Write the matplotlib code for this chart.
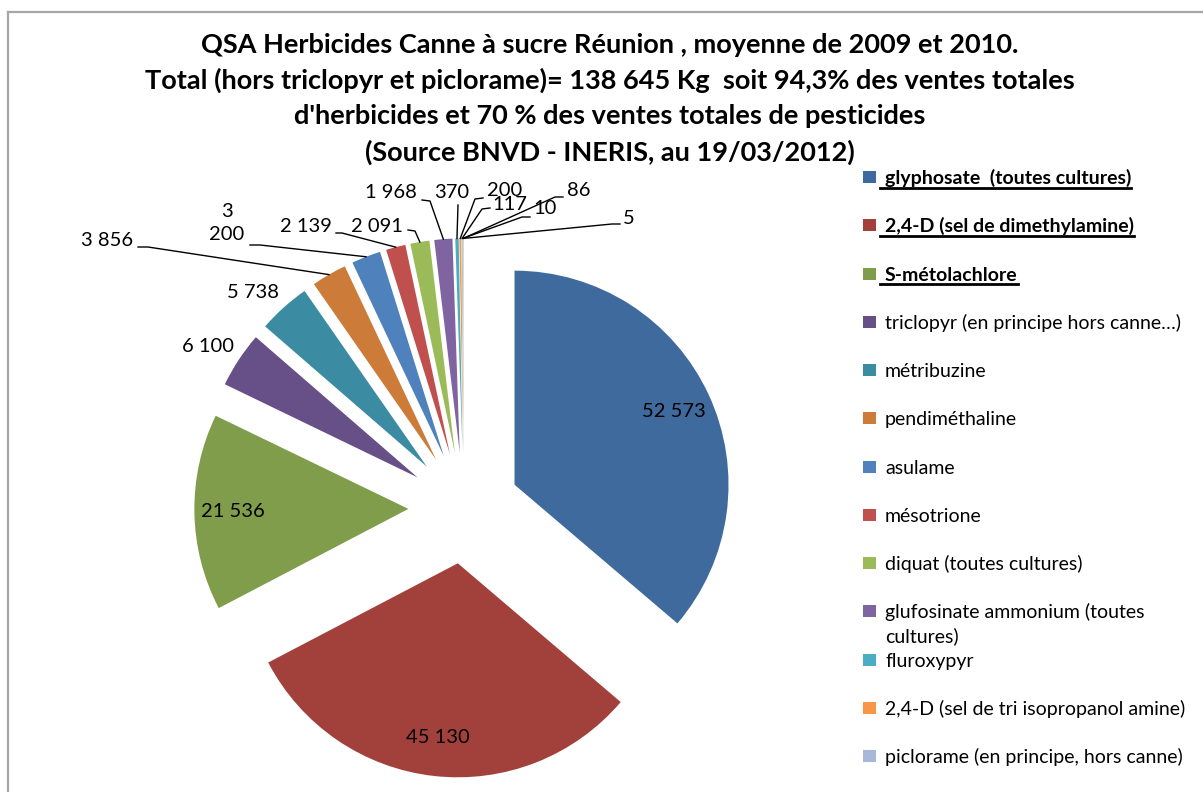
import matplotlib
matplotlib.use("Agg")
import matplotlib.pyplot as plt
from matplotlib.lines import Line2D
from matplotlib.patches import Rectangle
import numpy as np

# ---------------- data ----------------
categories = [
    "glyphosate  (toutes cultures)",
    "2,4-D (sel de dimethylamine)",
    "S-métolachlore",
    "triclopyr (en principe hors canne…)",
    "métribuzine",
    "pendiméthaline",
    "asulame",
    "mésotrione",
    "diquat (toutes cultures)",
    "glufosinate ammonium (toutes\ncultures)",
    "fluroxypyr",
    "2,4-D (sel de tri isopropanol amine)",
    "piclorame (en principe, hors canne)",
    "autre QSA 1",
    "autre QSA 2",
    "autre QSA 3",
]
values = [52573, 45130, 21536, 6100, 5738, 3856, 3200, 2139, 2091, 1968,
          370, 200, 117, 10, 86, 5]
bold_legend = [True, True, True] + [False] * 13
legend_count = 13

colors = ["#3F6A9E", "#A2403C", "#7F9D4A", "#674F87", "#3B8CA2", "#CC7B38",
          "#4F81BD", "#C0504D", "#9BBB59", "#8064A2", "#4BACC6", "#F79646",
          "#A8B8D8", "#D9A9A8", "#C6D8A5", "#B9ADCC"]

title_lines = [
    "QSA Herbicides Canne à sucre Réunion , moyenne de 2009 et 2010.",
    "Total (hors triclopyr et piclorame)= 138 645 Kg  soit 94,3% des ventes totales",
    "d'herbicides et 70 % des ventes totales de pesticides",
    "(Source BNVD - INERIS, au 19/03/2012)",
]

# ---------------- layout (pixels) ----------------
W, H = 1203, 792
CX, CY, R = 464, 508, 214          # pie centre / radius in image pixels
FONT = "Lato"

def to_data(xp, yp):
    return (xp - CX) / R, (CY - yp) / R

# label layout: index -> (x, y, ha, leader points (image px))
label_layout = {
    3: (208, 346, "center", []),
    4: (253, 293, "center", []),
    5: (133, 241, "right", [(138, 247), (148, 247)]),
    6: (227, 223, "center", [(250, 245), (260, 245)]),
    7: (332, 227, "right", [(336, 233), (342, 233)]),
    8: (403, 226, "right", [(408, 230), (415, 231)]),
    9: (417, 193, "right", [(422, 200), (430, 201)]),
    10: (452, 192, "center", [(458, 205)]),
    11: (487, 190, "left", [(483, 198), (475, 199)]),
    12: (492, 204, "left", [(490, 208), (482, 209)]),
    13: (533, 209, "left", [(530, 217), (522, 217)]),
    14: (567, 191, "left", [(563, 197), (555, 197)]),
    15: (623, 219, "left", [(620, 224), (612, 224)]),
}
wrap_labels = {6}

fig = plt.figure(figsize=(W / 100, H / 100), dpi=100)
fig.patch.set_facecolor("white")
ax = fig.add_axes([0, 0, 1, 1])

wedges, _ = ax.pie(values, colors=colors, startangle=90, counterclock=False,
                   explode=[0.26] * len(values), radius=1, center=(0, 0),
                   wedgeprops=dict(linewidth=0))
x0, y1 = to_data(0, 0)
x1, y0 = to_data(W, H)
ax.set_xlim(x0, x1)
ax.set_ylim(y0, y1)
ax.set_aspect("auto")
ax.axis("off")

def fmt(v):
    return f"{v:,}".replace(",", " ")

# inside labels
for i in range(3):
    w = wedges[i]
    th = np.deg2rad((w.theta1 + w.theta2) / 2)
    cx, cy = w.center
    ax.text(cx + 0.82 * np.cos(th), cy + 0.82 * np.sin(th), fmt(values[i]),
            ha="center", va="center", fontsize=14.5, family=FONT, color="black")

# outside labels with leader lines
for i, (xt, yt, ha, pts) in label_layout.items():
    txt = fmt(values[i])
    if i in wrap_labels:
        txt = txt.replace(" ", "\n")
    tx, ty = to_data(xt, yt)
    ax.text(tx, ty, txt, ha=ha, va="center", fontsize=14.5, family=FONT,
            color="black", multialignment="center", linespacing=1.45)
    if pts:
        w = wedges[i]
        th = np.deg2rad((w.theta1 + w.theta2) / 2)
        cx, cy = w.center
        ex, ey = cx + np.cos(th), cy + np.sin(th)
        xs = [to_data(*p)[0] for p in pts] + [ex]
        ys = [to_data(*p)[1] for p in pts] + [ey]
        ax.add_line(Line2D(xs, ys, color="black", lw=1.0))

# title
for k, line in enumerate(title_lines):
    yc = [45, 80, 116, 152][k]
    fig.text(610 / W, 1 - yc / H, line, ha="center", va="center",
             fontsize=19.5, fontweight="bold", family=FONT, color="black")

# legend (manual)
fig.canvas.draw()
renderer = fig.canvas.get_renderer()
row0, step = 177, 48.25
for i in range(legend_count):
    yr = row0 + i * step
    fig.patches.append(Rectangle((863 / W, 1 - (yr + 6) / H), 13 / W, 12 / H,
                                 transform=fig.transFigure, facecolor=colors[i],
                                 edgecolor="none"))
    lines = categories[i].split("\n")
    for j, ln in enumerate(lines):
        yb = yr + 7 + j * 24
        t = fig.text(885 / W, 1 - yb / H, ln, ha="left", va="baseline",
                     fontsize=14, family=FONT, color="black",
                     fontweight="bold" if bold_legend[i] else "normal")
        if bold_legend[i]:
            bb = t.get_window_extent(renderer)
            yu = 1 - (yb + 3.5) / H
            fig.add_artist(Line2D([880 / W, bb.x1 / W], [yu, yu],
                                  transform=fig.transFigure, color="black", lw=2.0))

# chart area border (left and top edges visible)
fig.add_artist(Line2D([7.5 / W, 7.5 / W], [0, 1 - 12 / H], transform=fig.transFigure,
                      color="#A6A6A6", lw=1.6))
fig.add_artist(Line2D([7.5 / W, 1], [1 - 12 / H, 1 - 12 / H], transform=fig.transFigure,
                      color="#A6A6A6", lw=1.6))

fig.savefig("out.png", dpi=100, facecolor="white")
